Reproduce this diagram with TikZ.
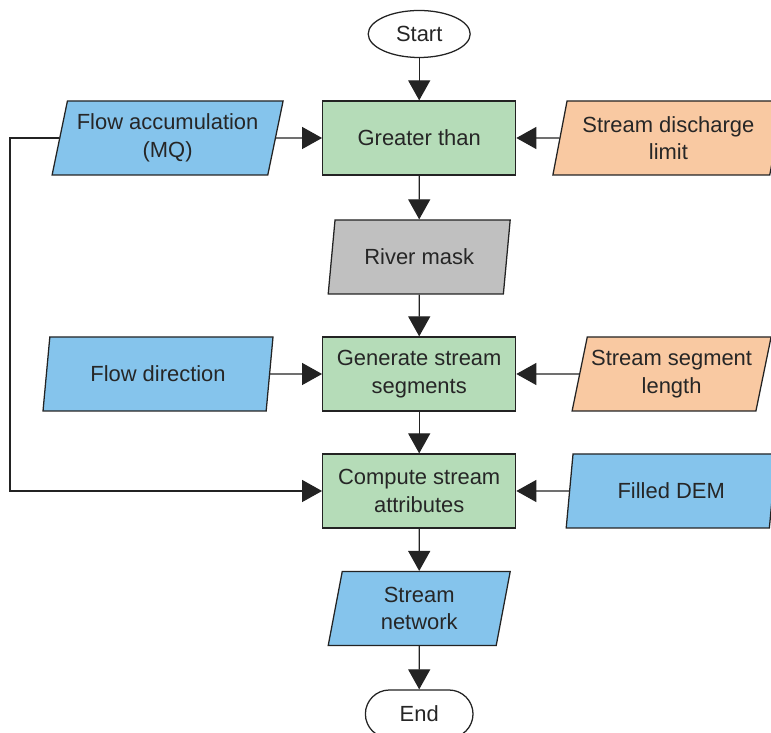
\documentclass[tikz,border=0pt]{standalone}
\usepackage{fontspec}
\setmainfont{Liberation Sans}
\usetikzlibrary{arrows.meta,shapes.geometric,shapes.misc}
\definecolor{procfill}{RGB}{181,220,184}
\definecolor{datafill}{RGB}{133,196,236}
\definecolor{paramfill}{RGB}{249,201,162}
\definecolor{maskfill}{RGB}{192,192,192}
\definecolor{edge}{RGB}{35,35,35}
\tikzset{flow/.style={-{Triangle[length=0.5cm,width=0.55cm]},line width=0.9pt,edge},
 process/.style={draw=edge,line width=0.9pt,fill=procfill,minimum width=4.825cm,minimum height=1.85cm,align=center},
 iodata/.style={trapezium,trapezium left angle=75,trapezium right angle=105,trapezium stretches body,
  draw=edge,line width=0.9pt,minimum width=5.775cm,minimum height=1.85cm,align=center,inner xsep=0pt},
 terminal/.style={draw=edge,line width=0.9pt,fill=white},
 every node/.style={font=\fontsize{15.6}{19.5}\selectfont,text=black!85}}

\begin{document}
\begin{tikzpicture}
\useasboundingbox (0,0) rectangle (19.275,18.325);
\node[terminal,ellipse,minimum width=2.55cm,minimum height=1.175cm] (start) at (10.48,17.475) {Start};
\node[process] (greater) at (10.48,14.875) {Greater than};
\node[iodata,fill=datafill] (flowacc) at (4.19,14.875) {Flow accumulation\\(MQ)};
\node[iodata,fill=paramfill] (discharge) at (16.71,14.875) {Stream discharge\\limit};
\node[iodata,fill=maskfill,minimum width=4.55cm] (river) at (10.48,11.9) {River mask};
\node[process] (generate) at (10.48,8.975) {Generate stream\\segments};
\node[iodata,fill=datafill,minimum width=5.75cm] (flowdir) at (3.95,8.975) {Flow direction};
\node[iodata,fill=paramfill,minimum width=4.975cm] (seglen) at (16.79,8.975) {Stream segment\\length};
\node[process] (compute) at (10.48,6.05) {Compute stream\\attributes};
\node[iodata,fill=datafill,minimum width=5.25cm] (filled) at (16.78,6.05) {Filled DEM};
\node[iodata,fill=datafill,minimum width=4.55cm] (network) at (10.48,3.11) {Stream\\network};
\node[terminal,rounded rectangle,minimum width=2.925cm,minimum height=1.2cm] (end) at (10.48,0.475) {End};
\coordinate (loop) at (0.25,0);
% main line
\draw[flow] (start) -- (greater);
\draw[flow] (greater) -- (river);
\draw[flow] (river) -- (generate);
\draw[flow] (generate) -- (compute);
\draw[flow] (compute) -- (network);
\draw[flow] (network) -- (end);
% inputs
\draw[flow] (flowacc.east) -- (greater.west);
\draw[flow] (discharge.west) -- (greater.east);
\draw[flow] (flowdir.east) -- (generate.west);
\draw[flow] (seglen.west) -- (generate.east);
\draw[flow] (filled.west) -- (compute.east);
\draw[flow] (flowacc.west) -| (loop |- compute.west) -- (compute.west);
\end{tikzpicture}
\end{document}
